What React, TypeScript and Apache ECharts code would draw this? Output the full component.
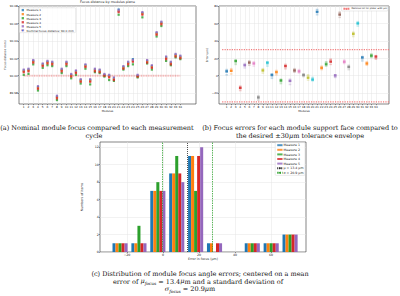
import { useEffect, useRef } from 'react';
import * as echarts from 'echarts';

// ---------- data ----------
const modules = [1, 2, 3, 4, 5, 6, 7, 8, 9, 10, 11, 12, 13, 14, 15, 16, 17, 18, 19, 20, 21, 22, 23, 24, 25, 26, 27, 28, 29, 30, 31, 32, 33, 34];

// focus distance deviation from 90 mm, in micrometres, per measurement cycle
const measure1 = [6, 7, 17, -13, 13, 16, 15, -24, 7, 15, 1, 5, -5, 12, -5, 7, 6, 1, 0, -3, 76, 10, 15, 19, 0, 72, 17, 11, 49, 61, 21, 15, 24, 22];
const measure2 = [5, 6, 16, -14, 12, 15, 14, -25, 6, 14, 0, 4, -6, 11, -6, 6, 5, 0, -1, -4, 74, 9, 14, 17, -1, 71, 16, 10, 48, 60, 20, 14, 23, 21];
const measure3 = [1, 2, 13, -17, 9, 12, 11, -28, 3, 11, -3, 1, -9, 8, -10, 4, 3, -1, -5, -6, 70, 7, 11, 13, -2, 67, 14, 7, 45, 57, 17, 12, 21, 19];
const measure4 = [4, 5, 15, -15, 11, 14, 13, -26, 5, 13, -1, 3, -7, 10, -7, 5, 4, 0, -2, -5, 73, 8, 13, 16, -1, 70, 15, 9, 47, 59, 19, 13, 22, 20];
const measure5 = [7, 8, 18, -12, 14, 17, 16, -23, 8, 16, 2, 6, -4, 13, -4, 8, 7, 2, 1, -2, 75, 11, 16, 18, 1, 73, 18, 12, 50, 62, 22, 16, 25, 23];
const measureNames = ['Measure 1', 'Measure 2', 'Measure 3', 'Measure 4', 'Measure 5'];

// mean focus error per module (µm)
const moduleMeanError = [5, 5.5, 17, -14, 12, 15, 14, -25, 6, 15, 1, 4, -5.5, 11, -6, 6, 5, 1, -2.5, -4.5, 73, 9, 13, 16, 0.5, 70, 16, 10, 48, 60, 21, 14, 23, 22];

// histogram of focus errors
const histBinEdges = [-29.1, -18.6, -8.1, 2.4, 12.9, 23.4, 33.9, 44.4, 54.9, 65.4, 75.9];
const histMeasure1 = [1, 1, 7, 9, 11, 1, 0, 1, 1, 2];
const histMeasure2 = [1, 1, 7, 9, 11, 1, 0, 1, 1, 2];
const histMeasure3 = [1, 3, 8, 11, 7, 0, 0, 1, 1, 2];
const histMeasure4 = [1, 1, 7, 9, 11, 1, 0, 1, 1, 2];
const histMeasure5 = [1, 1, 7, 8, 12, 1, 0, 1, 1, 2];
const muFocus = 13.4;
const sigmaLines = [-0.5, 27.5];
const tolerance = 30;
const toleranceSpan = [0, 36.9];
const nominalOffset = 0;

const abYTicks = [-20, 0, 20, 40, 60, 80];
const cXTicks = [-20, 0, 20, 40, 60];
const cYTicks = [0, 2, 4, 6, 8, 10, 12];

// ---------- style ----------
const MEASURE_COLORS = ['#1f77b4', '#ff7f0e', '#2ca02c', '#d62728', '#9467bd'];
const TAB10 = ['#1f77b4', '#ff7f0e', '#2ca02c', '#d62728', '#9467bd', '#8c564b', '#e377c2', '#7f7f7f', '#bcbd22', '#17becf'];
const SANS = 'DejaVu Sans';
const SERIF = 'DejaVu Serif';
const SQUARE_ICON = 'path://M0,0h10v10h-10z';
const TOL_NAME = 'Defocus tol for plate: \u00b130 \u03bcm';

const minus = (v: number) => String(v).replace('-', '\u2212');

function valueAxis(o: any) {
  return {
    type: 'value',
    gridIndex: o.gridIndex,
    min: o.min,
    max: o.max,
    name: o.name,
    nameLocation: 'middle',
    nameGap: o.nameGap,
    nameTextStyle: { fontSize: o.fontSize, fontFamily: SANS, color: '#222' },
    axisLine: { show: false, onZero: false },
    axisTick: { show: true, customValues: o.ticks, length: 1.2, lineStyle: { color: '#333', width: 0.5 } },
    axisLabel: {
      customValues: o.ticks,
      fontSize: o.fontSize,
      fontFamily: SANS,
      color: '#222',
      margin: o.labelMargin ?? 1.3,
      formatter: o.formatter,
    },
    splitLine: { show: true, lineStyle: { color: '#e4e4e4', width: 0.5 } },
  };
}

function captionText(x: number, y: number, text: string, rich?: any) {
  return {
    type: 'text',
    x,
    y,
    silent: true,
    style: {
      text,
      fill: '#111',
      fontSize: 6.5,
      fontFamily: SERIF,
      lineHeight: 8,
      align: 'center',
      verticalAlign: 'middle',
      textAlign: 'center',
      textVerticalAlign: 'middle',
      rich,
    },
  };
}

export default function App() {
  const ref = useRef<HTMLDivElement>(null);

  useEffect(() => {
    if (!ref.current) return;
    const chart = echarts.init(ref.current, undefined, { renderer: 'svg' });
    const measures = [measure1, measure2, measure3, measure4, measure5];
    const hists = [histMeasure1, histMeasure2, histMeasure3, histMeasure4, histMeasure5];

    const series: any[] = [];

    // (a) focus distance per module
    series.push({
      type: 'line',
      name: 'Nominal focus distance: 90.0 mm',
      xAxisIndex: 0,
      yAxisIndex: 0,
      data: modules.map((m) => [m, nominalOffset]),
      symbol: 'none',
      lineStyle: { color: 'rgba(240,80,80,0.4)', width: 2, type: [1, 0.7] },
      z: 2,
      silent: true,
    });
    measures.forEach((m, k) => {
      series.push({
        type: 'scatter',
        name: measureNames[k],
        xAxisIndex: 0,
        yAxisIndex: 0,
        symbol: 'rect',
        symbolSize: 2.2,
        itemStyle: { color: MEASURE_COLORS[k] },
        data: m.map((v, i) => [modules[i], v]),
        z: 3,
      });
    });

    // (b) errors per module
    const bMeas: any[] = [];
    modules.forEach((mod, i) => {
      measures.forEach((m) => {
        bMeas.push({ value: [mod, m[i]], itemStyle: { color: TAB10[i % 10] } });
      });
    });
    series.push({
      type: 'scatter',
      name: 'measurements',
      xAxisIndex: 1,
      yAxisIndex: 1,
      symbol: 'rect',
      symbolSize: [2.6, 1.6],
      itemStyle: { opacity: 0.25 },
      data: bMeas,
      z: 3,
    });
    series.push({
      type: 'scatter',
      name: 'mean',
      xAxisIndex: 1,
      yAxisIndex: 1,
      symbol: 'rect',
      symbolSize: [2.6, 2.2],
      data: modules.map((mod, i) => ({ value: [mod, moduleMeanError[i]], itemStyle: { color: TAB10[i % 10] } })),
      z: 4,
    });
    const tolColor = '#f27c7c';
    const tolStyle = { color: tolColor, width: 1.2, type: 'dotted' };
    [tolerance, -tolerance].forEach((t, j) => {
      series.push({
        type: 'line',
        name: j === 0 ? TOL_NAME : 'tol-low',
        xAxisIndex: 1,
        yAxisIndex: 1,
        data: toleranceSpan.map((x) => [x, t]),
        symbol: 'none',
        itemStyle: { color: tolColor },
        lineStyle: tolStyle,
        silent: true,
        z: 2,
      });
    });

    // (c) histogram
    hists.forEach((counts, k) => {
      series.push({
        type: 'custom',
        name: measureNames[k],
        xAxisIndex: 2,
        yAxisIndex: 2,
        itemStyle: { color: MEASURE_COLORS[k] },
        encode: { x: [0, 1], y: 2 },
        data: counts.map((c, i) => [histBinEdges[i], histBinEdges[i + 1], c]),
        renderItem: (_p: any, api: any) => {
          const x0 = api.value(0);
          const x1 = api.value(1);
          const c = api.value(2);
          if (!c) return null;
          const w = x1 - x0;
          const bw = (0.8 * w) / 5;
          const left = x0 + 0.1 * w + k * bw;
          const p0 = api.coord([left, c]);
          const p1 = api.coord([left + bw, 0]);
          return {
            type: 'rect',
            shape: { x: p0[0], y: p0[1], width: p1[0] - p0[0], height: p1[1] - p0[1] },
            style: { fill: MEASURE_COLORS[k] },
          };
        },
        z: 3,
      });
    });
    const muStyle = { color: '#222', width: 0.8, type: [1, 1] };
    const sigStyle = { color: '#2ca02c', width: 0.8, type: [1.4, 1] };
    series.push({
      type: 'line',
      name: '\u03bc = 13.4 \u03bcm',
      xAxisIndex: 2,
      yAxisIndex: 2,
      data: [],
      symbol: 'none',
      itemStyle: { color: '#222' },
      lineStyle: muStyle,
      markLine: { silent: true, symbol: 'none', label: { show: false }, lineStyle: muStyle, data: [{ xAxis: muFocus, lineStyle: muStyle }] },
      z: 5,
    });
    series.push({
      type: 'line',
      name: '\u03c3 = 20.9 \u03bcm',
      xAxisIndex: 2,
      yAxisIndex: 2,
      data: [],
      symbol: 'none',
      itemStyle: { color: '#2ca02c' },
      lineStyle: sigStyle,
      markLine: {
        silent: true,
        symbol: 'none',
        label: { show: false },
        lineStyle: sigStyle,
        data: sigmaLines.map((v) => ({ xAxis: v, lineStyle: sigStyle })),
      },
      z: 5,
    });

    const legendFrame = {
      backgroundColor: 'rgba(255,255,255,0.85)',
      borderColor: '#cccccc',
      borderWidth: 0.4,
      borderRadius: 1,
      selectedMode: false,
      orient: 'vertical',
    };

    const option: any = {
      animation: false,
      title: {
        text: 'Focus distance by modules plane',
        left: 107.5,
        top: 0.6,
        padding: 0,
        textAlign: 'center',
        textStyle: { fontSize: 3.3, fontWeight: 'normal', fontFamily: SANS, color: '#222' },
      },
      grid: [
        { left: 19, top: 6, width: 177, height: 98, show: true, borderColor: '#333', borderWidth: 0.6 },
        { left: 219, top: 6, width: 170, height: 98, show: true, borderColor: '#333', borderWidth: 0.6 },
        { left: 100, top: 142, width: 206, height: 110, show: true, borderColor: '#333', borderWidth: 0.6 },
      ],
      xAxis: [
        valueAxis({ gridIndex: 0, min: 0, max: 37.3, ticks: modules, fontSize: 2.8, name: 'Modules', nameGap: 5.5 }),
        valueAxis({ gridIndex: 1, min: -0.7, max: 36.9, ticks: modules, fontSize: 2.8, name: 'Modules', nameGap: 5.5 }),
        valueAxis({ gridIndex: 2, min: -35, max: 79.5, ticks: cXTicks, fontSize: 3.2, name: 'Error in focus (\u03bcm)', nameGap: 5.5, formatter: minus }),
      ],
      yAxis: [
        valueAxis({
          gridIndex: 0, min: -32.5, max: 80, ticks: abYTicks, fontSize: 2.8,
          name: 'Focus distance (mm)', nameGap: 10.5,
          formatter: (v: number) => (90 + v / 1000).toFixed(2),
        }),
        valueAxis({ gridIndex: 1, min: -32.5, max: 80, ticks: abYTicks, fontSize: 2.8, name: 'Error (\u03bcm)', nameGap: 8, formatter: minus }),
        valueAxis({ gridIndex: 2, min: 0, max: 12.6, ticks: cYTicks, fontSize: 3.2, name: 'Numbers of items', nameGap: 6 }),
      ],
      legend: [
        {
          ...legendFrame,
          left: 19.4,
          top: 7.8,
          padding: [0.8, 2, 0.8, 0.6],
          itemWidth: 3.6,
          itemHeight: 2.3,
          itemGap: 1.05,
          textStyle: { fontSize: 2.8, lineHeight: 2.8, fontFamily: SANS, color: '#222', padding: [0, 0, 0, -3] },
          data: [
            ...measureNames.map((n) => ({ name: n, icon: SQUARE_ICON })),
            { name: 'Nominal focus distance: 90.0 mm' },
          ],
        },
        {
          ...legendFrame,
          right: 12,
          top: 6.6,
          padding: [0.8, 1, 0.8, 1],
          itemWidth: 6,
          itemHeight: 2.4,
          textStyle: { fontSize: 2.4, lineHeight: 2.8, fontFamily: SANS, color: '#222', padding: [0, 0, 0, -3] },
          data: [TOL_NAME],
        },
        {
          ...legendFrame,
          right: 95,
          top: 142.6,
          padding: [1, 1.5, 1, 1],
          itemWidth: 5.3,
          itemHeight: 2,
          itemGap: 1.4,
          textStyle: { fontSize: 3.2, lineHeight: 3.2, fontFamily: SANS, color: '#222', padding: [0, 0, 0, -4] },
          data: [
            ...measureNames.map((n) => ({ name: n, icon: 'rect' })),
            { name: '\u03bc = 13.4 \u03bcm' },
            { name: '\u03c3 = 20.9 \u03bcm' },
          ],
        },
      ],
      graphic: [
        captionText(97, 128, '(a) Nominal module focus compared to each measurement'),
        captionText(94, 135.5, 'cycle'),
        captionText(300, 128, '(b) Focus errors for each module support face compared to'),
        captionText(300, 135.5, 'the desired \u00b130{i|\u03bc}m tolerance envelope', {
          i: { fontStyle: 'italic', fontSize: 6.5, fontFamily: SERIF },
        }),
        captionText(200, 274, '(c) Distribution of module focus angle errors; centered on a mean'),
        captionText(198, 281.5, 'error of {i|\u03bc}{s|focus} = 13.4{i|\u03bc}m and a standard deviation of', {
          i: { fontStyle: 'italic', fontSize: 6.5, fontFamily: SERIF, lineHeight: 8, verticalAlign: 'top' },
          s: { fontStyle: 'italic', fontSize: 4.3, fontFamily: SERIF, lineHeight: 4.3, verticalAlign: 'bottom' },
        }),
        captionText(190, 289, '{i|\u03c3}{s|focus} = 20.9{i|\u03bc}m', {
          i: { fontStyle: 'italic', fontSize: 6.5, fontFamily: SERIF, lineHeight: 8, verticalAlign: 'top' },
          s: { fontStyle: 'italic', fontSize: 4.3, fontFamily: SERIF, lineHeight: 4.3, verticalAlign: 'bottom' },
        }),
      ],
      series,
    };

    chart.setOption(option);
    return () => chart.dispose();
  }, []);

  return (
    <div
      ref={ref}
      style={{ position: 'absolute', left: 0, top: 0, width: 400, height: 296, background: '#fff' }}
    />
  );
}
